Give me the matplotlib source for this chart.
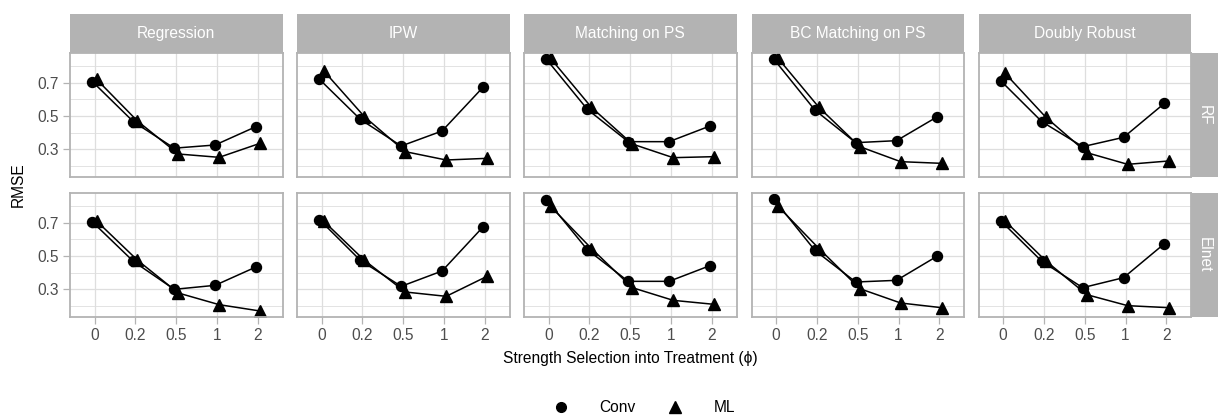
import matplotlib
matplotlib.use('Agg')
import matplotlib.pyplot as plt
from matplotlib.lines import Line2D
from matplotlib.patches import Rectangle

plt.rcParams['font.family'] = ['Liberation Sans', 'DejaVu Sans']

phi_labels = ['0', '0.2', '0.5', '1', '2']
methods = ['Regression', 'IPW', 'Matching on PS', 'BC Matching on PS', 'Doubly Robust']
learners = ['RF', 'Elnet']

# RMSE values, one row per method (same order as `methods`)
conv_rf = [
    [0.706, 0.466, 0.307, 0.326, 0.436],
    [0.720, 0.480, 0.320, 0.410, 0.672],
    [0.840, 0.540, 0.346, 0.346, 0.440],
    [0.840, 0.536, 0.340, 0.352, 0.496],
    [0.710, 0.466, 0.316, 0.372, 0.576],
]
ml_rf = [
    [0.720, 0.470, 0.272, 0.252, 0.336],
    [0.772, 0.496, 0.286, 0.236, 0.246],
    [0.846, 0.552, 0.332, 0.250, 0.256],
    [0.846, 0.552, 0.316, 0.226, 0.216],
    [0.756, 0.492, 0.280, 0.210, 0.230],
]
conv_elnet = [
    [0.704, 0.468, 0.300, 0.324, 0.434],
    [0.718, 0.474, 0.318, 0.410, 0.674],
    [0.838, 0.538, 0.348, 0.348, 0.442],
    [0.840, 0.534, 0.344, 0.354, 0.500],
    [0.710, 0.468, 0.310, 0.370, 0.574],
]
ml_elnet = [
    [0.710, 0.475, 0.278, 0.208, 0.170],
    [0.710, 0.474, 0.284, 0.258, 0.378],
    [0.798, 0.545, 0.310, 0.234, 0.210],
    [0.798, 0.545, 0.304, 0.218, 0.190],
    [0.710, 0.470, 0.268, 0.202, 0.190],
]

series_by_row = [(conv_rf, ml_rf), (conv_elnet, ml_elnet)]

W, H = 1219, 418
fig = plt.figure(figsize=(W / 100, H / 100), dpi=100)

GREY70 = '#B3B3B3'
GRID = '#DEDEDE'
FS = 11.2

col_left = [70, 297, 524, 751.5, 978.5]
pw = 212.5
row_top = [53, 193]
ph = 124
strip_top = 14
strip_h = 39
rstrip_w = 27

def fx(px):
    return px / W

def fy(py):
    return 1 - py / H

dodge = 0.05
xpos = list(range(len(phi_labels)))

for r in range(2):
    conv_set, ml_set = series_by_row[r]
    for c in range(5):
        ax = fig.add_axes([fx(col_left[c]), fy(row_top[r] + ph), pw / W, ph / H])
        ax.set_xlim(-0.6, len(phi_labels) - 0.4)
        ax.set_ylim(0.134, 0.878)
        ax.set_yticks([0.3, 0.5, 0.7])
        ax.set_yticks([0.2, 0.4, 0.6, 0.8], minor=True)
        ax.set_xticks(xpos)
        ax.grid(True, which='major', color=GRID, linewidth=0.9)
        ax.grid(True, which='minor', axis='y', color=GRID, linewidth=0.6)
        ax.set_axisbelow(True)
        for s in ax.spines.values():
            s.set_color(GREY70)
            s.set_linewidth(1.3)
            s.set_zorder(5)
        ax.tick_params(axis='both', which='major', color=GREY70, length=4.8,
                       width=0.9, labelsize=FS, labelcolor='#4D4D4D', pad=3)
        ax.tick_params(axis='both', which='minor', length=0)
        if c == 0:
            ax.set_yticklabels(['0.3', '0.5', '0.7'])
        else:
            ax.tick_params(axis='y', labelleft=False, length=0)
        if r == 1:
            ax.set_xticklabels(phi_labels)
        else:
            ax.tick_params(axis='x', labelbottom=False, length=0)

        xc = [x - dodge for x in xpos]
        xm = [x + dodge for x in xpos]
        ax.plot(xc, conv_set[c], color='black', lw=1.1, zorder=3)
        ax.plot(xm, ml_set[c], color='black', lw=1.1, zorder=3)
        ax.plot(xc, conv_set[c], 'o', color='black', ms=7.2, zorder=4)
        ax.plot(xm, ml_set[c], '^', color='black', ms=8, zorder=4)

        if r == 0:
            fig.patches.append(Rectangle((fx(col_left[c]), fy(strip_top + strip_h)),
                                         pw / W, strip_h / H, transform=fig.transFigure,
                                         facecolor=GREY70, edgecolor='none', figure=fig))
            fig.text(fx(col_left[c] + pw / 2), fy(strip_top + strip_h / 2), methods[c],
                     ha='center', va='center', color='white', fontsize=FS)
    # right strip
    rx = col_left[4] + pw
    fig.patches.append(Rectangle((fx(rx), fy(row_top[r] + ph)), rstrip_w / W, ph / H,
                                 transform=fig.transFigure, facecolor=GREY70,
                                 edgecolor='none', figure=fig))
    fig.text(fx(rx + rstrip_w / 2), fy(row_top[r] + ph / 2), learners[r],
             ha='center', va='center', color='white', fontsize=FS, rotation=270)

fig.text(fx(18), fy(185), 'RMSE', rotation=90, ha='center', va='center', fontsize=FS)
fig.text(fx(630), fy(358), 'Strength Selection into Treatment (\u03d5)', ha='center',
         va='center', fontsize=FS)

handles = [Line2D([], [], marker='o', ls='none', color='black', ms=7),
           Line2D([], [], marker='^', ls='none', color='black', ms=8)]
fig.legend(handles, ['Conv', 'ML'], loc='center', bbox_to_anchor=(fx(644), fy(408)),
           ncol=2, frameon=False, fontsize=FS, handlelength=1.0, handletextpad=2.0,
           columnspacing=2.0)

fig.savefig('out.png', dpi=100)
